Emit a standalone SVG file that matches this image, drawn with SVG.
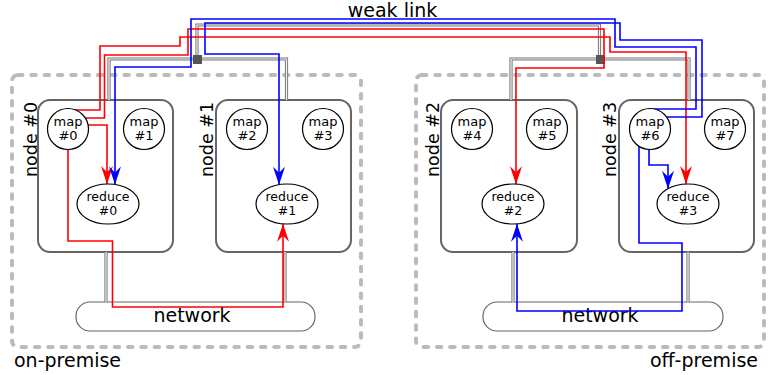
<svg xmlns="http://www.w3.org/2000/svg" xmlns:xlink="http://www.w3.org/1999/xlink" width="784" height="375" viewBox="0 0 784 375">
<style>
text{font-family:"DejaVu Sans","Liberation Sans",sans-serif;fill:#000}
.grp{fill:none;stroke:#bbb;stroke-width:4;stroke-dasharray:4.5 8.8;stroke-linecap:round}
.box{fill:#fff;stroke:#666;stroke-width:2}
.net{fill:#fff;stroke:#666;stroke-width:1.2}
.po{fill:none;stroke:#777;stroke-width:3.2}
.pi{fill:none;stroke:#f4f4f4;stroke-width:1.2}
.sq{fill:#555}
.r{fill:none;stroke:#f00;stroke-width:1.6}
.b{fill:none;stroke:#00f;stroke-width:1.6}
.node{fill:#fff;stroke:#000;stroke-width:1.2}
.lbl{font-size:17.5px}
.big{font-size:19px}
.sm{font-size:13px;text-anchor:middle}
.rs{font-size:12.5px;text-anchor:middle}
</style>
<defs>
<marker id="aR" markerUnits="userSpaceOnUse" markerWidth="22" markerHeight="16" viewBox="-19 -8 22 16" refX="0" refY="0" orient="auto"><path d="M0,0 L-18,-6 L-12,0 L-18,6 Z" fill="#f00"/></marker>
<marker id="aB" markerUnits="userSpaceOnUse" markerWidth="22" markerHeight="16" viewBox="-19 -8 22 16" refX="0" refY="0" orient="auto"><path d="M0,0 L-18,-6 L-12,0 L-18,6 Z" fill="#00f"/></marker>
<path id="p1" d="M109,100 V59 H197"/>
<path id="p2" d="M197,59 H286.5 V100"/>
<path id="p3" d="M197,59 V25 H599.5 V59"/>
<path id="p4" d="M600,59 H511 V100"/>
<path id="p5" d="M600,59 H689 V100"/>
<path id="p6" d="M106,252 V302"/>
<path id="p7" d="M285,252 V302"/>
<path id="p8" d="M513,252 V302"/>
<path id="p9" d="M688,252 V302"/>
</defs>
<rect width="784" height="375" fill="#fff"/>
<text class="big" x="392.5" y="17" text-anchor="middle">weak link</text>
<g id="on-premise">
<rect class="grp" x="12" y="75" width="349" height="272" rx="6"/>
<text class="big" x="14" y="367">on-premise</text>
</g>
<g id="off-premise">
<rect class="grp" x="416" y="75" width="348" height="272" rx="6"/>
<text class="big" x="758" y="367" text-anchor="end">off-premise</text>
</g>
<g id="node0"><rect class="box" x="38" y="100" width="135" height="152" rx="12"/><text class="lbl" transform="translate(37,177) rotate(-90)">node #0</text></g>
<g id="node1"><rect class="box" x="216" y="100" width="135" height="152" rx="12"/><text class="lbl" transform="translate(213,177) rotate(-90)">node #1</text></g>
<g id="node2"><rect class="box" x="441" y="100" width="136" height="152" rx="12"/><text class="lbl" transform="translate(439,177) rotate(-90)">node #2</text></g>
<g id="node3"><rect class="box" x="619" y="100" width="135" height="152" rx="12"/><text class="lbl" transform="translate(616,177) rotate(-90)">node #3</text></g>
<g id="network-on"><rect class="net" x="76" y="302" width="239" height="29" rx="14"/><text class="big" x="192" y="322" text-anchor="middle">network</text></g>
<g id="network-off"><rect class="net" x="483" y="302" width="240" height="29" rx="14"/><text class="big" x="600" y="322" text-anchor="middle">network</text></g>
<g id="links">
<use xlink:href="#p1" class="po"/><use xlink:href="#p1" class="pi"/>
<use xlink:href="#p2" class="po"/><use xlink:href="#p2" class="pi"/>
<use xlink:href="#p3" class="po"/><use xlink:href="#p3" class="pi"/>
<use xlink:href="#p4" class="po"/><use xlink:href="#p4" class="pi"/>
<use xlink:href="#p5" class="po"/><use xlink:href="#p5" class="pi"/>
<use xlink:href="#p6" class="po"/><use xlink:href="#p6" class="pi"/>
<use xlink:href="#p7" class="po"/><use xlink:href="#p7" class="pi"/>
<use xlink:href="#p8" class="po"/><use xlink:href="#p8" class="pi"/>
<use xlink:href="#p9" class="po"/><use xlink:href="#p9" class="pi"/>
<rect class="sq" x="193" y="55" width="9" height="9"/>
<rect class="sq" x="596" y="55" width="9" height="9"/>
</g>
<g id="connectors">
<path class="r" d="M72,110 H100 V46 H180 V37 H610 V52 H686 V184" marker-end="url(#aR)"/>
<path class="r" d="M80,118 H104.5 V55 H188 V29 H604 V68 H516 V184.2" marker-end="url(#aR)"/>
<path class="r" d="M80,125 H107 V184" marker-end="url(#aR)"/>
<path class="r" d="M68,140 V241 H112.5 V307 H283 V223.8" marker-end="url(#aR)"/>
<path class="b" d="M651,109 H696 V47 H615 V19 H191 V67 H115 V184.5" marker-end="url(#aB)"/>
<path class="b" d="M660,117 H702 V40 H620 V23 H205 V54 H279 V184.7" marker-end="url(#aB)"/>
<path class="b" d="M649,140 V165 H668 V188.7" marker-end="url(#aB)"/>
<path class="b" d="M639,140 V243 H682 V311 H517 V223.8" marker-end="url(#aB)"/>
</g>
<g id="map0"><circle class="node" cx="68" cy="129" r="20.5"/><text class="sm" x="68" y="126">map</text><text class="sm" x="68" y="140">#0</text></g>
<g id="map1"><circle class="node" cx="144" cy="129" r="20.5"/><text class="sm" x="144" y="126">map</text><text class="sm" x="144" y="140">#1</text></g>
<g id="map2"><circle class="node" cx="247" cy="129" r="20.5"/><text class="sm" x="247" y="126">map</text><text class="sm" x="247" y="140">#2</text></g>
<g id="map3"><circle class="node" cx="323" cy="129" r="20.5"/><text class="sm" x="323" y="126">map</text><text class="sm" x="323" y="140">#3</text></g>
<g id="map4"><circle class="node" cx="472" cy="129" r="20.5"/><text class="sm" x="472" y="126">map</text><text class="sm" x="472" y="140">#4</text></g>
<g id="map5"><circle class="node" cx="547" cy="129" r="20.5"/><text class="sm" x="547" y="126">map</text><text class="sm" x="547" y="140">#5</text></g>
<g id="map6"><circle class="node" cx="650" cy="129" r="20.5"/><text class="sm" x="650" y="126">map</text><text class="sm" x="650" y="140">#6</text></g>
<g id="map7"><circle class="node" cx="725" cy="129" r="20.5"/><text class="sm" x="725" y="126">map</text><text class="sm" x="725" y="140">#7</text></g>
<g id="reduce0"><ellipse class="node" cx="108" cy="204" rx="31" ry="20"/><text class="rs" x="108" y="201">reduce</text><text class="rs" x="108" y="215">#0</text></g>
<g id="reduce1"><ellipse class="node" cx="287" cy="204" rx="31" ry="20"/><text class="rs" x="287" y="201">reduce</text><text class="rs" x="287" y="215">#1</text></g>
<g id="reduce2"><ellipse class="node" cx="513" cy="204" rx="31" ry="20"/><text class="rs" x="513" y="201">reduce</text><text class="rs" x="513" y="215">#2</text></g>
<g id="reduce3"><ellipse class="node" cx="688" cy="204" rx="31" ry="20"/><text class="rs" x="688" y="201">reduce</text><text class="rs" x="688" y="215">#3</text></g>
</svg>
